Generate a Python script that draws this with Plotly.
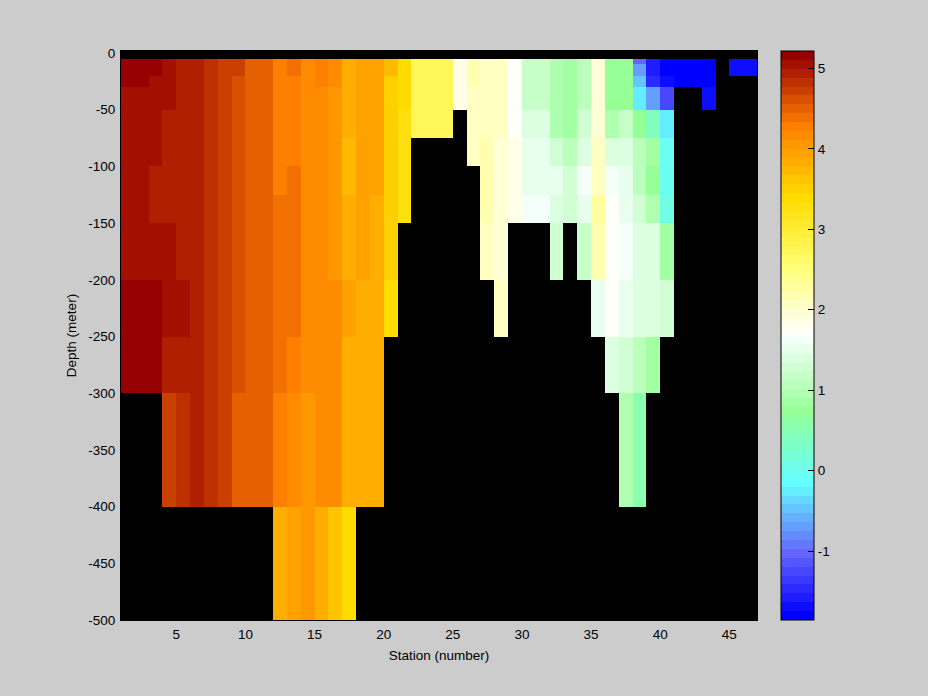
import plotly.graph_objects as go

N = None
stations = list(range(1, 48))
depth_edges = [0, -5, -10, -20, -30, -50, -75, -100, -125, -150, -200, -250, -300, -400, -500]

row_0_5 = [N] * 46
row_5_10 = [5.16, 5.16, 5.16, 5.05, 4.94, 4.94, 4.83, 4.72, 4.72, 4.50, 4.50, 4.28, 4.39, 4.17, 4.28, 4.17, 3.84, 3.95, 3.95, 3.73, 3.40,
            2.74, 2.74, 2.74, 1.86, 2.19, 2.08, 2.08, 1.75, 1.19, 1.19, 0.97, 0.80, 1.08, 1.97, 0.75, 0.75, -1.01, -1.56, -1.78, -1.78, -1.78, -1.78, N, -1.67, -1.67]
row_10_20 = [5.16, 5.16, 5.16, 5.05, 4.94, 4.94, 4.83, 4.72, 4.72, 4.50, 4.50, 4.28, 4.39, 4.17, 4.28, 4.17, 3.84, 3.95, 3.95, 3.73, 3.40,
             2.74, 2.74, 2.74, 1.86, 2.19, 2.08, 2.08, 1.75, 1.19, 1.19, 0.97, 0.80, 1.08, 1.97, 0.75, 0.75, -0.68, -1.56, -1.78, -1.78, -1.78, -1.78, N, -1.67, -1.67]
row_20_30 = [5.16, 5.16, 5.05, 5.05, 4.94, 4.94, 4.83, 4.72, 4.61, 4.50, 4.50, 4.28, 4.28, 4.17, 4.28, 4.17, 3.84, 3.95, 3.95, 3.51, 3.40,
             2.74, 2.74, 2.74, 1.86, 2.19, 2.08, 2.08, 1.75, 1.19, 1.19, 0.97, 0.80, 1.08, 1.97, 0.75, 0.75, -0.46, -1.45, -1.67, -1.78, -1.78, -1.78, N, N, N]
row_30_50 = [5.05, 5.05, 5.05, 5.05, 4.94, 4.94, 4.83, 4.72, 4.61, 4.50, 4.50, 4.28, 4.28, 4.17, 4.17, 4.06, 3.84, 3.95, 3.95, 3.51, 3.40,
             2.74, 2.74, 2.74, 1.86, 2.08, 2.08, 2.08, 1.75, 1.19, 1.19, 0.97, 0.86, 1.08, 1.97, 0.75, 0.75, -0.24, -0.68, -1.23, N, N, -1.67, N, N, N]
row_50_75 = [5.05, 5.05, 5.05, 4.94, 4.94, 4.94, 4.83, 4.72, 4.61, 4.50, 4.50, 4.28, 4.28, 4.17, 4.17, 4.06, 3.84, 3.95, 3.95, 3.51, 3.29,
             2.74, 2.74, 2.74, N, 2.08, 2.08, 2.08, 1.75, 1.42, 1.42, 0.97, 0.90, 1.30, 1.97, 0.97, 1.15, 0.75, 0.42, -0.24] + [N] * 6
row_75_100 = [5.05, 5.05, 5.05, 4.94, 4.94, 4.94, 4.83, 4.72, 4.61, 4.50, 4.50, 4.28, 4.28, 4.17, 4.17, 4.06, 3.73, 3.95, 3.95, 3.51, 3.29,
              N, N, N, N, 2.08, 2.19, 1.97, 1.86, 1.53, 1.53, 1.30, 1.08, 1.42, 2.08, 1.42, 1.42, 1.08, 0.80, -0.02] + [N] * 6
row_100_125 = [5.05, 5.05, 4.94, 4.94, 4.94, 4.94, 4.83, 4.72, 4.61, 4.50, 4.50, 4.28, 4.39, 4.17, 4.17, 4.06, 3.73, 3.95, 3.95, 3.51, 3.29,
               N, N, N, N, N, 2.19, 1.97, 1.86, 1.53, 1.53, 1.53, 1.30, 1.58, 2.08, 1.64, 1.53, 1.08, 0.75, -0.02] + [N] * 6
row_125_150 = [5.05, 5.05, 4.94, 4.94, 4.94, 4.94, 4.83, 4.72, 4.61, 4.50, 4.50, 4.39, 4.39, 4.17, 4.17, 4.06, 3.84, 3.95, 3.84, 3.51, 3.29,
               N, N, N, N, N, 2.19, 2.00, 1.86, 1.64, 1.64, 1.42, 1.30, 1.53, 2.30, 1.75, 1.53, 1.30, 0.97, 0.09] + [N] * 6
row_150_200 = [5.05, 5.05, 5.05, 5.05, 4.94, 4.94, 4.83, 4.72, 4.61, 4.50, 4.50, 4.39, 4.39, 4.17, 4.17, 4.06, 3.84, 3.95, 3.84, 3.51,
               N, N, N, N, N, N, 2.08, 1.97, N, N, N, 1.30, N, 1.19, 2.19, 1.75, 1.64, 1.42, 1.42, 0.86] + [N] * 6
row_200_250 = [5.16, 5.16, 5.16, 5.05, 5.05, 4.94, 4.83, 4.72, 4.61, 4.50, 4.50, 4.39, 4.39, 4.17, 4.17, 4.17, 3.95, 3.84, 3.84, 3.40] + [N] * 7 + \
              [2.12] + [N] * 6 + [1.53, 1.75, 1.53, 1.42, 1.42, 1.30] + [N] * 6
row_250_300 = [5.16, 5.16, 5.16, 4.94, 4.94, 4.94, 4.83, 4.72, 4.61, 4.50, 4.50, 4.39, 4.28, 4.17, 4.17, 4.17, 3.84, 3.84, 3.84] + [N] * 16 + \
              [1.42, 1.30, 1.02, 0.80] + [N] * 7
row_300_400 = [N] * 3 + [4.72, 4.83, 4.94, 4.83, 4.72, 4.50, 4.50, 4.50, 4.28, 4.17, 4.06, 4.17, 4.17, 3.84, 3.84, 3.84] + [N] * 17 + \
              [0.97, 0.47] + [N] * 8
row_400_500 = [N] * 11 + [3.84, 3.95, 4.06, 3.84, 3.62, 3.40] + [N] * 29

temperature = [row_0_5, row_5_10, row_10_20, row_20_30, row_30_50, row_50_75, row_75_100, row_100_125,
               row_125_150, row_150_200, row_200_250, row_250_300, row_300_400, row_400_500]

x_ticks = [5, 10, 15, 20, 25, 30, 35, 40, 45]
x_labels = ["5", "10", "15", "20", "25", "30", "35", "40", "45"]
y_ticks = [0, -50, -100, -150, -200, -250, -300, -350, -400, -450, -500]
y_labels = ["0", "-50", "-100", "-150", "-200", "-250", "-300", "-350", "-400", "-450", "-500"]
cb_ticks = [-1, 0, 1, 2, 3, 4, 5]
cb_labels = ["-1", "0", "1", "2", "3", "4", "5"]

C_MIN, C_MAX = -1.857, 5.217
LEVELS = 64
ANCHORS = [(0, (0, 0, 255)), (7, (100, 100, 255)), (15, (100, 255, 255)), (23, (150, 255, 150)),
           (31, (245, 255, 250)), (32, (255, 255, 250)), (39, (255, 255, 120)), (47, (255, 220, 0)),
           (55, (255, 128, 0)), (63, (150, 0, 0))]


def level_color(level):
    for (a, ca), (b, cb) in zip(ANCHORS, ANCHORS[1:]):
        if a <= level <= b:
            t = (level - a) / (b - a)
            return "rgb(%d,%d,%d)" % tuple(round(p + (q - p) * t) for p, q in zip(ca, cb))


colorscale = []
for lv in range(LEVELS):
    c = level_color(lv)
    colorscale.append([lv / LEVELS, c])
    colorscale.append([(lv + 1) / LEVELS, c])

W, H = 928, 696
L, R, T, B = 121, 757, 51, 620
CB_L, CB_W = 781, 33
PW = R - L
FONT = dict(family="Liberation Sans, Arial, sans-serif", size=13.5, color="black")
CB_X = (CB_L - L) / PW

fig = go.Figure(go.Heatmap(
    x=stations, y=depth_edges, z=temperature,
    zmin=C_MIN, zmax=C_MAX, colorscale=colorscale, hoverongaps=False,
    colorbar=dict(
        thickness=CB_W, thicknessmode="pixels",
        len=1, lenmode="fraction",
        x=CB_X, xanchor="left", xpad=0,
        y=1, yanchor="top", ypad=0,
        tickmode="array", tickvals=cb_ticks, ticktext=cb_labels,
        ticks="inside", ticklen=6, tickcolor="black", tickwidth=1,
        outlinecolor="black", outlinewidth=1, tickfont=FONT,
    ),
))

# Left-hand colour bar ticks (Plotly's bar only draws them on one side)
cb_shapes = []
for v in cb_ticks:
    py = (v - C_MIN) / (C_MAX - C_MIN)
    cb_shapes.append(dict(type="line", xref="paper", yref="paper",
                          x0=CB_X, x1=CB_X + 6 / PW, y0=py, y1=py,
                          line=dict(color="black", width=1)))

fig.update_layout(
    width=W, height=H, autosize=False,
    margin=dict(l=L, r=W - R, t=T, b=H - B, autoexpand=False),
    paper_bgcolor="#cccccc", plot_bgcolor="black",
    font=FONT, shapes=cb_shapes,
    xaxis=dict(range=[1, 47], tickmode="array", tickvals=x_ticks, ticktext=x_labels,
               ticks="", showgrid=False, zeroline=False,
               ticklabelstandoff=2,
               showline=True, linecolor="black", mirror=True, automargin=False,
               title=dict(text="Station (number)", standoff=9, font=FONT)),
    yaxis=dict(range=[-500, 1.76], tickmode="array", tickvals=y_ticks, ticktext=y_labels,
               ticks="", showgrid=False, zeroline=False,
               ticklabelstandoff=2,
               showline=True, linecolor="black", mirror=True, automargin=False,
               title=dict(text="Depth (meter)", standoff=8, font=FONT)),
)

fig.write_html("out.html", config=dict(displayModeBar=False),
               post_script="document.body.style.margin='0';")
